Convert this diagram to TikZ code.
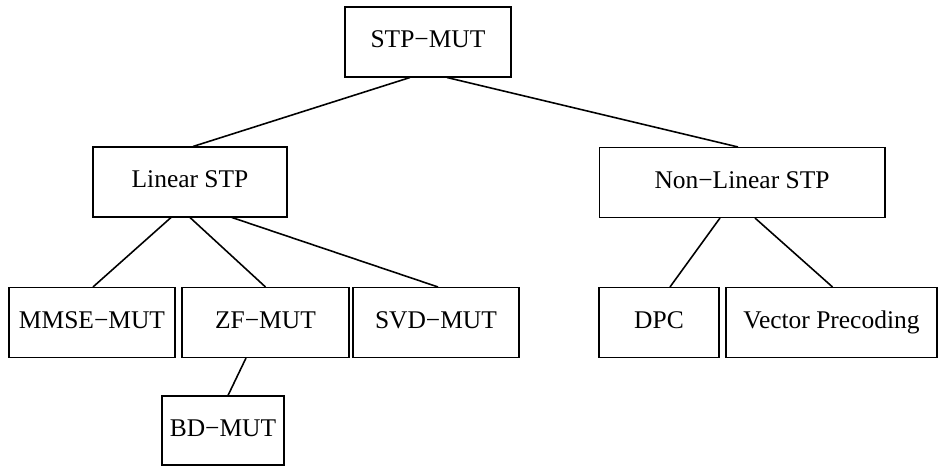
\documentclass[tikz,border=0pt]{standalone}
\usepackage{fontspec}
\setmainfont{Liberation Serif}
\usetikzlibrary{positioning}

\begin{document}
\begin{tikzpicture}[
  x=0.02cm, y=-0.02cm,
  font=\fontsize{14.5}{16}\selectfont,
  box/.style={draw,line width=0.6pt,minimum height=1.4cm,inner sep=0pt,
    text height=0.66em,text depth=0pt},
  link/.style={draw,line width=0.9pt}]

% --- frame of the picture (pixel units, y downwards) ---
\useasboundingbox (0,0) rectangle (938,466);

% --- root ---
\node[box,minimum width=3.32cm] (top) at (428,42) {STP−MUT};

% --- second level: linear and non-linear ---
\node[box,minimum width=3.88cm] (lin) at (190,182) {Linear STP};
\node[box,minimum width=5.72cm] (nonlin) at (742,182.5) {Non−Linear STP};

% --- third level ---
\node[box,minimum width=3.32cm] (mmse) at (92,322.5) {MMSE−MUT};
\node[box,minimum width=3.34cm] (zf) at (265.5,322.5) {ZF−MUT};
\node[box,minimum width=3.32cm] (svd) at (436,322.5) {SVD−MUT};
\node[box,minimum width=2.4cm] (dpc) at (659,322.5) {DPC};
\node[box,minimum width=4.22cm] (vp) at (831.5,322.5) {Vector Precoding};

% --- fourth level, under ZF ---
\node[box,minimum width=2.44cm,minimum height=1.38cm] (bd) at (223,430.5) {BD−MUT};

% --- tree links ---
\draw[link] ([xshift=-0.36cm]top.south) -- ([xshift=0.06cm]lin.north);
\draw[link] ([xshift=0.38cm]top.south) -- ([xshift=-0.08cm]nonlin.north);
\draw[link] ([xshift=-0.38cm]lin.south) -- ([xshift=0.02cm]mmse.north);
\draw[link] (lin.south) -- (zf.north);
\draw[link] ([xshift=0.84cm]lin.south) -- ([xshift=0.04cm]svd.north);
\draw[link] ([xshift=-0.44cm]nonlin.south) -- ([xshift=0.22cm]dpc.north);
\draw[link] ([xshift=0.26cm]nonlin.south) -- ([xshift=0.02cm]vp.north);
\draw[link] ([xshift=-0.39cm]zf.south) -- ([xshift=0.1cm]bd.north);

\end{tikzpicture}
\end{document}
